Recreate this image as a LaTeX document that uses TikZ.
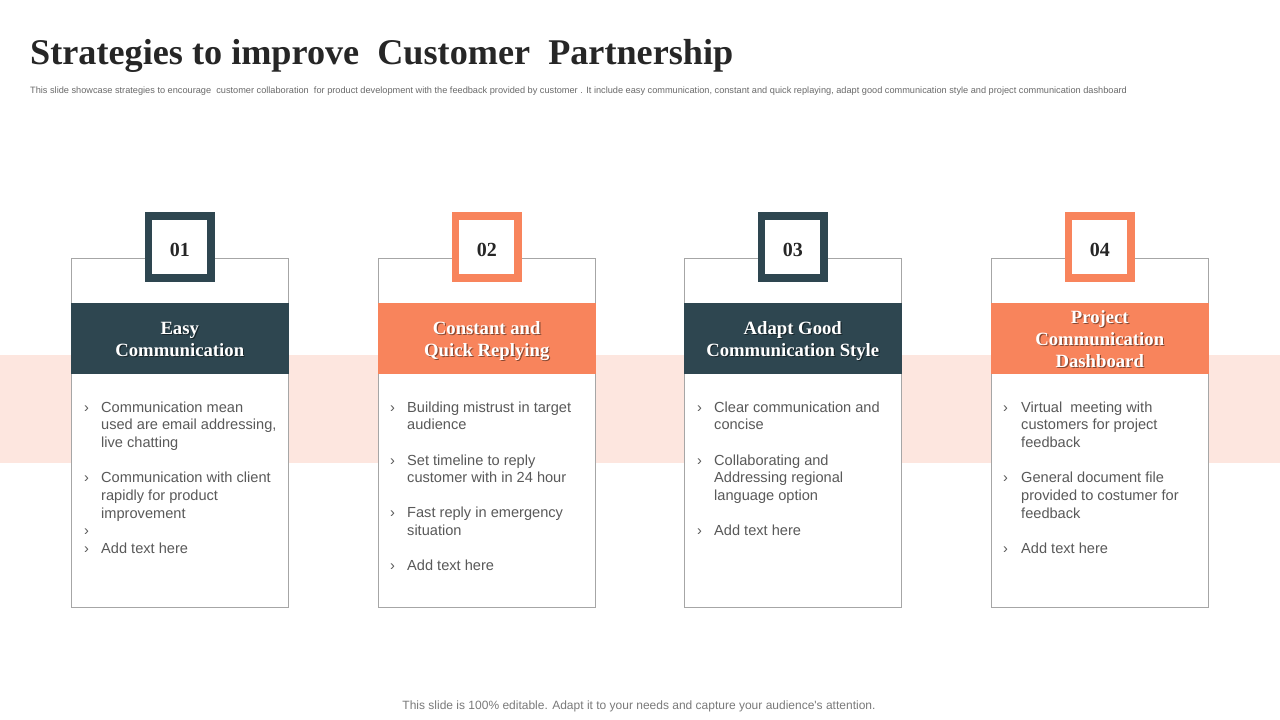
\documentclass[tikz,border=0pt]{standalone}
\usepackage{fontspec}
\setmainfont{Liberation Serif}
\newfontfamily\arialf{Liberation Sans}
\definecolor{darkc}{HTML}{2E4650}
\definecolor{orangec}{HTML}{F8845C}
\definecolor{bandc}{HTML}{FDE6DF}
\definecolor{txtc}{HTML}{595959}
\definecolor{titlec}{HTML}{262626}
\definecolor{borderc}{HTML}{A6A6A6}
\tikzset{
  ln/.style={anchor=base west, inner sep=0pt, font=\arialf\fontsize{14.6}{17}\selectfont, text=txtc},
  mk/.style={anchor=base west, inner sep=0pt, font=\arialf\fontsize{14.5}{17}\selectfont, text=txtc},
  hd/.style={anchor=base, inner sep=0pt, font=\bfseries\fontsize{18.7}{22}\selectfont, text=white},
  hs/.style={anchor=base, inner sep=0pt, font=\bfseries\fontsize{18.7}{22}\selectfont, text=black, opacity=0.45},
  num/.style={anchor=base, inner sep=0pt, font=\bfseries\fontsize{20}{24}\selectfont, text=titlec},
  cardbox/.style={draw=borderc, line width=0.9pt, fill=white},
}
\newcommand\headline[3]{%
  \node[hs] at (#1+1.2,#2+1.2) {#3};
  \node[hd] at (#1,#2) {#3};}
\begin{document}
\begin{tikzpicture}[x=1pt,y=-1pt]
\useasboundingbox (0,0) rectangle (1280,720);
\fill[white] (0,0) rectangle (1280,720);
% title
\node[anchor=base west, inner sep=0pt, font=\bfseries\fontsize{36.2}{40}\selectfont, text=titlec] (title) at (30,64) {Strategies to improve\ \ Customer\ \ Partnership};
\node[anchor=base west, inner sep=0pt, font=\arialf\fontsize{9.2}{11}\selectfont, text=txtc!90] (sub) at (30,93) {This slide showcase strategies to encourage \ customer collaboration \ for product development with the feedback provided by customer . It include easy communication, constant and quick replaying, adapt good communication style and project communication dashboard};
% band
\fill[bandc] (0,355) rectangle (1280,463);
% cards
\foreach \L/\c/\n [count=\i] in {71/darkc/01,378/orangec/02,684/darkc/03,991/orangec/04}{
  \draw[cardbox] (\L,258.5) rectangle (\L+217.5,607.5);
  \coordinate (c\i) at (\L+108.75,0);
  \fill[\c] (\L,303) rectangle (\L+217.5,373.5) coordinate (h\i);
  \fill[\c] (\L+108.75-35,212) rectangle (\L+108.75+35,282);
  \fill[white] (\L+108.75-27.3,219.7) rectangle (\L+108.75+27.3,274.3);
  \node[num] (n\i) at (\L+108.75,256) {\n};
}
% headers
\headline{179.75}{334.5}{Easy}
\headline{179.75}{356.5}{Communication}
\headline{486.75}{334.5}{Constant and}
\headline{486.75}{356.5}{Quick Replying}
\headline{792.75}{334.5}{Adapt Good}
\headline{792.75}{356.5}{Communication Style}
\headline{1099.75}{323}{Project}
\headline{1099.75}{345}{Communication}
\headline{1099.75}{367}{Dashboard}
% card 1
\foreach \y in {412,482,535,553}{\node[mk] at (84,\y) {›};}
\node[ln] (a1) at (101,412) {Communication mean};
\node[ln] (a2) at (101,429.5) {used are email addressing,};
\node[ln] (a3) at (101,447) {live chatting};
\node[ln] (a4) at (101,482) {Communication with client};
\node[ln] (a5) at (101,500) {rapidly for product};
\node[ln] (a6) at (101,518) {improvement};
\node[ln] (a7) at (101,553) {Add text here};
% card 2
\foreach \y in {412,465,517,570}{\node[mk] at (390,\y) {›};}
\node[ln] (b1) at (407,412) {Building mistrust in target};
\node[ln] (b2) at (407,429.5) {audience};
\node[ln] (b3) at (407,465) {Set timeline to reply};
\node[ln] (b4) at (407,482.5) {customer with in 24 hour};
\node[ln] (b5) at (407,517) {Fast reply in emergency};
\node[ln] (b6) at (407,535) {situation};
\node[ln] (b7) at (407,570) {Add text here};
% card 3
\foreach \y in {412,465,535}{\node[mk] at (697,\y) {›};}
\node[ln] (d1) at (714,412) {Clear communication and};
\node[ln] (d2) at (714,429.5) {concise};
\node[ln] (d3) at (714,465) {Collaborating and};
\node[ln] (d4) at (714,482.5) {Addressing regional};
\node[ln] (d5) at (714,500) {language option};
\node[ln] (d6) at (714,535) {Add text here};
% card 4
\foreach \y in {412,482,553}{\node[mk] at (1003,\y) {›};}
\node[ln] (e1) at (1021,412) {Virtual \ meeting with};
\node[ln] (e2) at (1021,429.5) {customers for project};
\node[ln] (e3) at (1021,447) {feedback};
\node[ln] (e4) at (1021,482) {General document file};
\node[ln] (e5) at (1021,500) {provided to costumer for};
\node[ln] (e6) at (1021,518) {feedback};
\node[ln] (e7) at (1021,553) {Add text here};
% footer
\node[anchor=base, inner sep=0pt, font=\arialf\fontsize{12}{14}\selectfont, text=txtc!80] (foot) at (639,709.5) {This slide is 100\% editable. Adapt it to your needs and capture your audience's attention.};
\end{tikzpicture}
\end{document}
